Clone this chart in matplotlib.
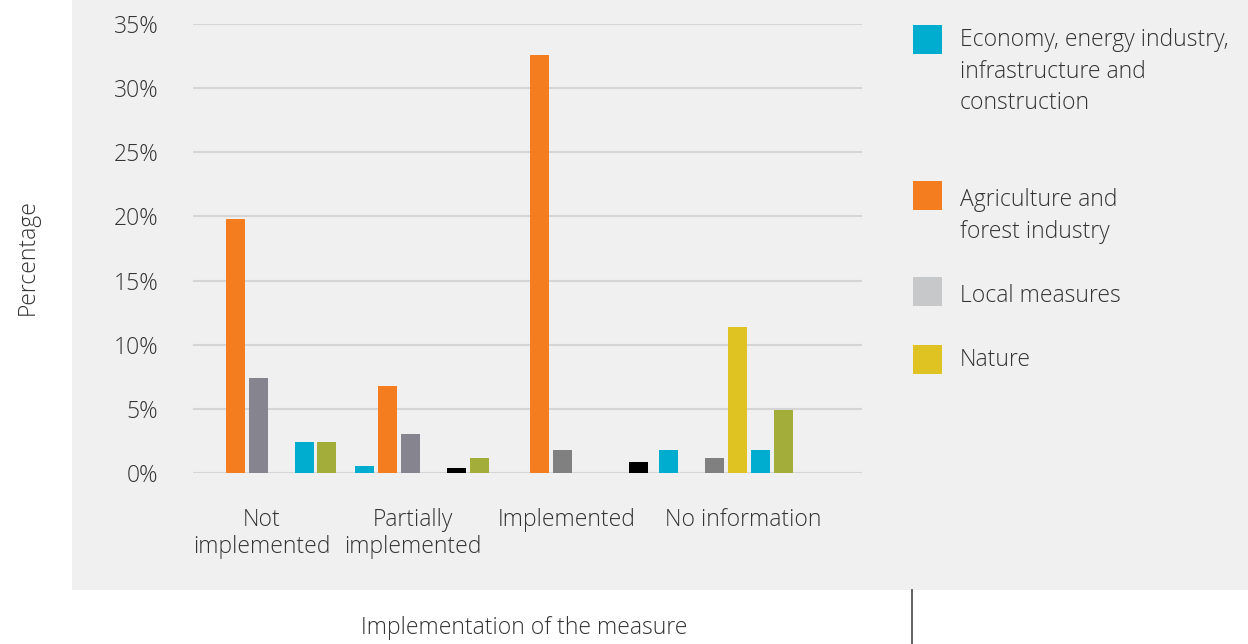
import matplotlib
matplotlib.use("Agg")
import matplotlib.pyplot as plt
from matplotlib.patches import Rectangle
from matplotlib import font_manager

# ---------------- data ----------------
categories = ["Not\nimplemented", "Partially\nimplemented", "Implemented", "No information"]
economy_first = [0.0, 0.55, 0.0, 1.8]      # blue, first slot
agriculture = [19.8, 6.8, 32.6, 0.0]        # orange
local_measures = [7.4, 3.05, 1.8, 1.2]      # grey
nature = [0.0, 0.0, 0.0, 11.4]              # yellow
economy_second = [2.4, 0.0, 0.0, 1.8]       # blue, fifth slot
other = [0.0, 0.4, 0.86, 0.0]               # black
olive_series = [2.4, 1.2, 0.0, 4.9]         # olive
yticks = [0, 5, 10, 15, 20, 25, 30, 35]
ytick_labels = ["0%", "5%", "10%", "15%", "20%", "25%", "30%", "35%"]
legend_labels = ["Economy, energy industry,\ninfrastructure and\nconstruction",
                 "Agriculture and\nforest industry", "Local measures", "Nature"]

# ---------------- styles ----------------
BLUE = "#00ADCF"
ORANGE = "#F47D20"
LEGEND_GREY = "#C7C8CA"
YELLOW = "#DEC322"
OLIVE = "#A3AE3A"
BLACK = "#000000"
local_colors = ["#86848F", "#86848F", "#808080", "#808080"]
TEXT = "#333333"
BG = "#EFF0EF"
GRID = "#D4D5D4"

avail = {f.name for f in font_manager.fontManager.ttflist}
family = "Open Sans" if "Open Sans" in avail else "DejaVu Sans"
plt.rcParams["font.family"] = [family, "DejaVu Sans"]
FS = 16.5

W, H = 1248, 644
fig = plt.figure(figsize=(W / 100, H / 100), dpi=100)
fig.patch.set_facecolor("white")
bg = Rectangle((72 / W, 1 - 590 / H), 1 - 72 / W, 590 / H,
               transform=fig.transFigure, facecolor=BG, edgecolor="none", zorder=-5)
fig.add_artist(bg)
# divider line at bottom
fig.add_artist(plt.Line2D([912 / W, 912 / W], [0, 1 - 590 / H],
                          transform=fig.transFigure, color="#555555", lw=1.3, zorder=-4))

ax = fig.add_axes([193 / W, 1 - 473 / H, (862 - 193) / W, (473 - 24) / H])
ax.set_facecolor("none")
ax.set_zorder(2)

pitch = 6.64      # group pitch in slot units
bw = 0.83         # bar width in slot units
series = [
    (economy_first, [0, 0, 0, 0], [BLUE] * 4),
    (agriculture, [1, 1, 1, 1], [ORANGE] * 4),
    (local_measures, [2, 2, 2, 2], local_colors),
    (nature, [3, 3, 3, 3], [YELLOW] * 4),
    (economy_second, [4, 4, 4, 4], [BLUE] * 4),
    (other, [4, 4, 5.3, 4], [BLACK] * 4),
    (olive_series, [5, 5, 5, 5], [OLIVE] * 4),
]
for vals, slots, cols in series:
    xs = [g * pitch + s for g, s in enumerate(slots)]
    ax.bar(xs, vals, width=bw, color=cols, zorder=3, linewidth=0)

ax.set_xlim(-0.85, 28.36)
ax.set_ylim(0, 35)
ax.set_yticks(yticks)
ax.set_yticklabels(ytick_labels)
ax.grid(axis="y", color=GRID, lw=1.5, zorder=1)
ax.set_axisbelow(True)
for sp in ax.spines.values():
    sp.set_visible(False)

tick_pos = [2.16, 8.76, 15.48, 23.17]
ax.set_xticks(tick_pos)
ax.set_xticklabels(categories, linespacing=1.2)
ax.tick_params(axis="x", length=0, pad=25, labelsize=FS, labelcolor=TEXT)
ax.tick_params(axis="y", length=0, pad=25, labelsize=FS, labelcolor=TEXT)
for t in ax.get_xticklabels():
    t.set_fontweight("light")
    t.set_ha("center")
for t in ax.get_yticklabels():
    t.set_fontweight("light")

fig.text(28 / W, 1 - 257 / H, "Percentage", rotation=90, ha="center", va="center",
         fontsize=FS, color=TEXT, fontweight="light")
fig.text(524 / W, 1 - 628 / H, "Implementation of the measure", ha="center",
         va="center", fontsize=FS, color=TEXT, fontweight="light")

# legend drawn manually
leg_colors = [BLUE, ORANGE, LEGEND_GREY, YELLOW]
leg_box_top = [25, 181, 277, 345]
leg_text_top = [28, 188, 284, 348]
for col, bt, tt, lab in zip(leg_colors, leg_box_top, leg_text_top, legend_labels):
    fig.add_artist(Rectangle((913 / W, 1 - (bt + 29) / H), 29 / W, 29 / H,
                             transform=fig.transFigure, facecolor=col,
                             edgecolor="none", zorder=2))
    fig.text(960 / W, 1 - tt / H, lab, ha="left", va="top", fontsize=FS,
             color=TEXT, linespacing=1.43, fontweight="light")

fig.savefig("out.png", dpi=100, facecolor="white")
